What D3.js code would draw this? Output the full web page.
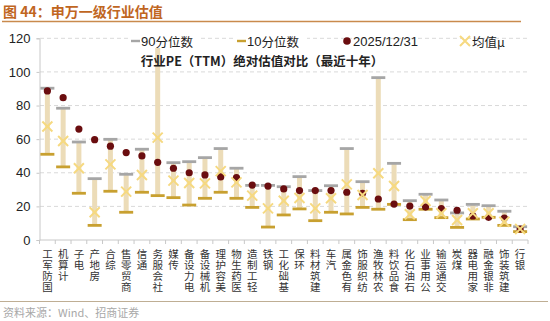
<!DOCTYPE html>
<html><head><meta charset="utf-8">
<script src="https://cdn.jsdelivr.net/npm/d3@7"></script>
<style>
html,body{margin:0;padding:0;background:#fff;}
svg{display:block;font-family:"Liberation Sans",Arial,sans-serif;}
.vlab{writing-mode:vertical-rl;text-orientation:upright;}
</style></head>
<body>
<svg id="c" width="550" height="321"></svg>
<script>
const categories = ["国防军工","计算机","电子","房地产","综合","商贸零售","通信","社会服务","传媒","电力设备","机械设备","美容护理","医药生物","轻工制造","钢铁","基础化工","环保","建筑材料","汽车","有色金属","纺织服饰","农林牧渔","食品饮料","石油石化","公用事业","交通运输","煤炭","家用电器","非银金融","建筑装饰","银行"];
const p90 = [90.3,78.4,58.3,36.5,59.9,39.1,54.0,121.0,46.0,46.6,49.0,54.4,42.7,32.5,32.5,31.7,37.7,29.4,32.3,54.4,34.7,96.6,45.6,23.4,27.2,23.8,16.1,21.2,20.4,17.1,7.9];
const p10 = [51.0,43.5,27.8,8.7,29.0,16.5,28.4,26.4,25.2,20.8,24.8,28.4,24.8,19.4,7.7,14.9,18.5,11.5,16.5,15.5,19.4,18.3,21.2,12.1,18.3,13.3,7.5,12.5,13.5,8.7,5.0];
const current = [88.7,84.7,66.0,59.7,55.8,52.0,50.0,46.2,42.7,40.0,38.7,37.5,37.1,32.7,32.1,30.4,29.4,29.4,29.4,28.4,27.8,24.4,21.4,20.2,19.6,18.7,17.7,14.3,13.5,13.1,6.5];
const meanVal = [67.5,58.9,42.7,16.5,45.0,28.8,38.7,60.9,35.3,33.9,33.7,41.0,34.3,26.4,18.8,23.4,25.0,18.8,24.8,33.1,26.8,39.7,32.1,15.3,23.2,15.9,11.9,15.9,15.9,10.9,6.5];
const yTicks = [0,20,40,60,80,100,120];
const legendLabels = ["90分位数","10分位数","2025/12/31","均值μ"];

const svg = d3.select("#c");
const x = d3.scaleBand().domain(categories).range([39.5, 528]).padding(0);
const y = d3.scaleLinear().domain([0,120]).range([240, 38.3]);

const C = {bar:"#ecdcb8", g90:"#a6a6a6", g10:"#c8a030", dot:"#6a0d0f", mean:"#f6d980", grid:"#d9d9d9", axis:"#c8c8c8"};

// Title
svg.append("text").attr("x",3).attr("y",17).attr("font-size",14).attr("font-weight","bold")
  .attr("fill","#c0661f").attr("font-family","'Noto Sans CJK SC',sans-serif").text("图 44：申万一级行业估值");
svg.append("line").attr("x1",2).attr("x2",521).attr("y1",21.5).attr("y2",21.5).attr("stroke","#c98a4d").attr("stroke-width",1.3);

// grid
svg.append("g").selectAll("line").data(yTicks.filter(d=>d>0)).join("line")
  .attr("x1",40).attr("x2",528).attr("y1",d=>y(d)).attr("y2",d=>y(d))
  .attr("stroke",C.grid).attr("stroke-dasharray","4,3").attr("stroke-width",1);

// y axis
const ya = svg.append("g").attr("transform","translate(39.5,0)").call(d3.axisLeft(y).tickValues(yTicks).tickSize(3).tickPadding(6));
ya.select(".domain").attr("stroke",C.axis);
ya.selectAll(".tick line").attr("stroke",C.axis);
ya.selectAll("text").attr("font-size",13).attr("fill","#222").attr("font-family","'Liberation Sans',Arial,sans-serif");

// x axis line and ticks
const xa = svg.append("g").attr("transform","translate(0,240)");
xa.append("line").attr("x1",39.5).attr("x2",528).attr("stroke",C.axis);
xa.selectAll("line.t").data(d3.range(categories.length+1)).join("line").attr("class","t")
  .attr("x1",i=>39.5+i*x.step()).attr("x2",i=>39.5+i*x.step()).attr("y1",0).attr("y2",4).attr("stroke",C.axis);

// x labels: chars upright, stacked bottom-to-top, end at top (one text per label)
const lab = svg.append("g").attr("font-family","'Noto Sans CJK SC',sans-serif").attr("font-size",10.5).attr("fill","#333");
lab.selectAll("text").data(categories).join("text").attr("class","vlab")
  .attr("x",c=>x(c)+x.bandwidth()/2).attr("y",248.5)
  .attr("letter-spacing",0.7)
  .text(c=>Array.from(c).reverse().join(""));

const cx = c=>x(c)+x.bandwidth()/2;
const g = svg.append("g");
// bars
g.selectAll("rect.bar").data(categories).join("rect").attr("class","bar")
  .attr("x",c=>cx(c)-2.5).attr("width",5)
  .attr("y",(c,i)=>y(p90[i])).attr("height",(c,i)=>y(p10[i])-y(p90[i])).attr("fill",C.bar);
// 90
g.selectAll("rect.p90").data(categories).join("rect").attr("class","p90")
  .attr("x",c=>cx(c)-7).attr("width",14).attr("y",(c,i)=>y(p90[i])-1.4).attr("height",2.8).attr("fill",C.g90);
// 10
g.selectAll("rect.p10").data(categories).join("rect").attr("class","p10")
  .attr("x",c=>cx(c)-7).attr("width",14).attr("y",(c,i)=>y(p10[i])-1.4).attr("height",2.8).attr("fill",C.g10);
// dots
g.selectAll("circle").data(categories).join("circle")
  .attr("cx",cx).attr("cy",(c,i)=>y(current[i])).attr("r",3.6).attr("fill",C.dot);
// mean X
const xs = 5;
g.selectAll("path.m").data(categories).join("path").attr("class","m")
  .attr("d",(c,i)=>{const px=cx(c),py=y(meanVal[i]);return `M${px-xs},${py-xs}L${px+xs},${py+xs}M${px-xs},${py+xs}L${px+xs},${py-xs}`;})
  .attr("stroke",C.mean).attr("stroke-width",2).attr("fill","none");

// legend
const lg = svg.append("g").attr("font-size",13);
const ly = 41;
lg.append("rect").attr("x",129).attr("y",32).attr("width",71).attr("height",16).attr("fill","#fff");
lg.append("rect").attr("x",131).attr("y",ly-1.2).attr("width",9).attr("height",2.4).attr("fill",C.g90);
lg.append("text").attr("x",141).attr("y",ly).attr("dominant-baseline","central").attr("fill","#222")
  .html(`<tspan font-family="'Liberation Sans',Arial,sans-serif">90</tspan><tspan font-family="'Noto Sans CJK SC',sans-serif" font-size="12.5">分位数</tspan>`);
lg.append("rect").attr("x",235).attr("y",32).attr("width",72).attr("height",16).attr("fill","#fff");
lg.append("rect").attr("x",237).attr("y",ly-1.2).attr("width",9).attr("height",2.4).attr("fill",C.g10);
lg.append("text").attr("x",247).attr("y",ly).attr("dominant-baseline","central").attr("fill","#222")
  .html(`<tspan font-family="'Liberation Sans',Arial,sans-serif">10</tspan><tspan font-family="'Noto Sans CJK SC',sans-serif" font-size="12.5">分位数</tspan>`);
lg.append("circle").attr("cx",347).attr("cy",ly).attr("r",3.8).attr("fill",C.dot);
lg.append("text").attr("x",353).attr("y",ly).attr("dominant-baseline","central").attr("fill","#222")
  .attr("font-family","'Liberation Sans',Arial,sans-serif").text(legendLabels[2]);
lg.append("path").attr("d",`M${465-5},${ly-5}L${465+5},${ly+5}M${465-5},${ly+5}L${465+5},${ly-5}`)
  .attr("stroke",C.mean).attr("stroke-width",2);
lg.append("text").attr("x",472).attr("y",ly).attr("dominant-baseline","central").attr("fill","#222")
  .attr("font-family","'Noto Sans CJK SC',sans-serif").attr("font-size",12.5).text(legendLabels[3]);

// subtitle
svg.append("text").attr("x",262).attr("y",60).attr("text-anchor","middle").attr("dominant-baseline","central")
  .attr("font-size",12.5).attr("font-weight","bold").attr("fill","#222").attr("font-family","'Noto Sans CJK SC',sans-serif")
  .text("行业PE（TTM）绝对估值对比（最近十年）");

// footer
svg.append("line").attr("x1",0).attr("x2",548).attr("y1",301.5).attr("y2",301.5).attr("stroke","#bfae94").attr("stroke-width",1);
svg.append("text").attr("x",3).attr("y",311.5).attr("dominant-baseline","central").attr("font-size",11).attr("fill","#a8a8a8")
  .attr("font-family","'Noto Sans CJK SC',sans-serif").text("资料来源：Wind、招商证券");
</script>
</body></html>
